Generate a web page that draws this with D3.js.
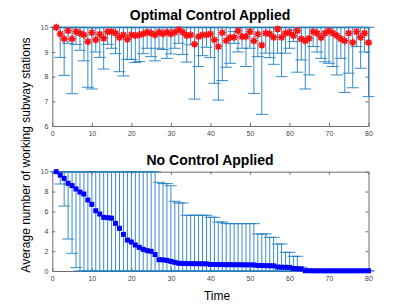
<!DOCTYPE html>
<html>
<head>
<meta charset="utf-8">
<script src="https://cdn.jsdelivr.net/npm/d3@7"></script>
<style>
  body { margin: 0; background: #fff; }
  svg { display: block; font-family: "Liberation Sans", Arial, Helvetica, sans-serif; }
</style>
</head>
<body>
<svg width="407" height="305"></svg>
<script>
// time steps 1..80
var time = d3.range(1, 81);

// optimal control: mean and error
var topMean = [
  10.0, 9.73, 9.53, 9.86, 9.53, 9.82, 9.76, 9.69, 9.42, 9.78,
  9.49, 9.72, 9.55, 9.82, 9.82, 9.76, 9.58, 9.69, 9.51, 9.69,
  9.66, 9.69, 9.73, 9.80, 9.76, 9.69, 9.80, 9.73, 9.80, 9.73,
  9.80, 9.90, 9.80, 9.66, 9.69, 9.32, 9.62, 9.69, 9.69, 9.73,
  9.49, 9.22, 9.78, 9.46, 9.59, 9.59, 9.86, 9.62, 9.62, 9.82,
  9.45, 9.72, 9.28, 9.76, 9.73, 9.59, 9.93, 9.59, 9.76, 9.78,
  9.66, 9.86, 9.53, 9.45, 9.55, 9.82, 9.76, 9.58, 9.76, 9.85,
  9.76, 9.66, 9.53, 9.45, 9.76, 9.39, 9.82, 9.59, 9.76, 9.38
];
var topErr = [
  0.00, 0.95, 1.48, 0.51, 2.22, 0.52, 0.69, 1.05, 1.85, 2.28,
  0.49, 0.94, 1.24, 0.51, 0.67, 0.83, 1.38, 1.66, 0.81, 0.99,
  1.09, 1.08, 0.80, 0.65, 0.95, 1.05, 0.65, 0.63, 1.06, 0.81,
  0.65, 0.55, 0.90, 1.07, 0.40, 2.23, 1.21, 0.84, 0.50, 0.96,
  1.76, 2.17, 1.94, 1.08, 1.05, 0.24, 0.86, 0.47, 1.21, 0.67,
  2.13, 0.91, 2.81, 0.81, 0.96, 1.09, 0.98, 1.59, 0.81, 0.63,
  0.24, 1.68, 0.85, 1.95, 1.48, 0.60, 0.76, 0.84, 1.16, 1.31,
  1.35, 1.59, 0.79, 2.09, 1.62, 1.84, 0.60, 1.25, 0.76, 2.19
];

// no control: mean and error
var bottomMean = [
  10.0, 9.66, 9.33, 8.83, 8.60, 8.26, 7.95, 7.75, 7.15, 6.71,
  6.07, 5.74, 5.40, 5.37, 5.32, 4.80, 4.30, 3.69, 3.12, 2.92,
  2.62, 2.38, 2.18, 2.05, 1.98, 1.66, 1.14, 1.12, 1.07, 0.97,
  0.87, 0.78, 0.76, 0.75, 0.74, 0.74, 0.73, 0.73, 0.72, 0.66,
  0.65, 0.65, 0.64, 0.64, 0.64, 0.63, 0.63, 0.63, 0.62, 0.62,
  0.61, 0.56, 0.55, 0.54, 0.53, 0.52, 0.40, 0.38, 0.37, 0.36,
  0.25, 0.23, 0.22, 0.03, 0.03, 0.02, 0.02, 0.02, 0.02, 0.02,
  0.02, 0.02, 0.02, 0.02, 0.02, 0.02, 0.02, 0.02, 0.02, 0.02
];
var bottomErr = [
  0.00, 0.90, 2.79, 5.61, 6.82, 7.92, 8.30, 8.50, 8.70, 8.80,
  8.90, 9.00, 9.10, 9.10, 9.20, 9.20, 9.30, 9.30, 9.30, 9.40,
  9.40, 9.40, 9.30, 9.20, 9.00, 8.90, 7.79, 7.68, 7.73, 7.62,
  6.15, 6.07, 6.09, 4.86, 4.87, 4.87, 4.88, 4.88, 4.89, 4.75,
  4.76, 4.28, 4.29, 4.13, 4.13, 4.14, 4.14, 4.14, 4.15, 4.15,
  4.16, 3.17, 3.18, 3.19, 2.86, 2.87, 2.32, 2.34, 1.51, 1.52,
  1.23, 1.25, 0.15, 0.00, 0.00, 0.00, 0.00, 0.00, 0.00, 0.00,
  0.00, 0.00, 0.00, 0.00, 0.00, 0.00, 0.00, 0.00, 0.00, 0.00
];

var xTicks = [0, 10, 20, 30, 40, 50, 60, 70, 80];
var topYTicks = [6, 7, 8, 9, 10];
var bottomYTicks = [0, 2, 4, 6, 8, 10];

var svg = d3.select('svg');
var barColor = '#1f7fc4';
var capHalf = 1.5; // in time units

var x = d3.scaleLinear().domain([0, 80]).range([52.3, 368.5]);

function drawPanel(p) {
    var y = d3.scaleLinear().domain(p.yDomain).range(p.yRange);
    var g = svg.append('g');
    var lo = p.yDomain[0], hi = p.yDomain[1];

    var rows = time.map(function (t, i) {
        return {
            t: t,
            m: p.mean[i],
            low: Math.max(p.mean[i] - p.err[i], lo),
            high: Math.min(p.mean[i] + p.err[i], hi)
        };
    });

    // axes (box with inward ticks)
    var yr = p.yRange;
    var axes = [
        g.append('g').attr('transform', 'translate(0,' + yr[0] + ')')
            .call(d3.axisBottom(x).tickValues(xTicks).tickSize(-3).tickSizeOuter(0).tickPadding(5)),
        g.append('g').attr('transform', 'translate(0,' + yr[1] + ')')
            .call(d3.axisTop(x).tickValues(xTicks).tickSize(-3).tickSizeOuter(0).tickFormat('')),
        g.append('g').attr('transform', 'translate(' + x.range()[0] + ',0)')
            .call(d3.axisLeft(y).tickValues(p.yTicks).tickSize(-3).tickSizeOuter(0).tickPadding(4).tickFormat(d3.format('d'))),
        g.append('g').attr('transform', 'translate(' + x.range()[1] + ',0)')
            .call(d3.axisRight(y).tickValues(p.yTicks).tickSize(-3).tickSizeOuter(0).tickFormat(''))
    ];
    axes.forEach(function (a) {
        a.select('.domain').attr('stroke', '#6e6e6e');
        a.selectAll('.tick line').attr('stroke', '#6e6e6e');
        a.selectAll('.tick text').attr('fill', '#444').style('font-size', '7px');
    });

    // error bars
    var bars = g.append('g')
        .attr('stroke', barColor)
        .attr('stroke-width', 0.9)
        .attr('fill', 'none');
    bars.selectAll('line.v').data(rows).enter().append('line')
        .attr('class', 'v')
        .attr('x1', function (d) { return x(d.t); })
        .attr('x2', function (d) { return x(d.t); })
        .attr('y1', function (d) { return y(d.low); })
        .attr('y2', function (d) { return y(d.high); });
    bars.selectAll('line.lc').data(rows).enter().append('line')
        .attr('class', 'lc')
        .attr('x1', function (d) { return x(d.t - capHalf); })
        .attr('x2', function (d) { return x(d.t + capHalf); })
        .attr('y1', function (d) { return y(d.low); })
        .attr('y2', function (d) { return y(d.low); });
    bars.selectAll('line.hc').data(rows).enter().append('line')
        .attr('class', 'hc')
        .attr('x1', function (d) { return x(d.t - capHalf); })
        .attr('x2', function (d) { return x(d.t + capHalf); })
        .attr('y1', function (d) { return y(d.high); })
        .attr('y2', function (d) { return y(d.high); });

    // markers
    var marks = g.append('g');
    if (p.marker === 'star') {
        var r = 3.6;
        var k = r * 0.72;
        marks.selectAll('path').data(rows).enter().append('path')
            .attr('transform', function (d) { return 'translate(' + x(d.t) + ',' + y(d.m) + ')'; })
            .attr('d', 'M' + (-r) + ',0H' + r + 'M0,' + (-r) + 'V' + r +
                'M' + (-k) + ',' + (-k) + 'L' + k + ',' + k +
                'M' + (-k) + ',' + k + 'L' + k + ',' + (-k))
            .attr('stroke', '#ff1010')
            .attr('stroke-width', 1.6)
            .attr('fill', 'none');
    } else {
        var s = 5;
        marks.selectAll('rect').data(rows).enter().append('rect')
            .attr('x', function (d) { return x(d.t) - s / 2; })
            .attr('y', function (d) { return y(d.m) - s / 2; })
            .attr('width', s)
            .attr('height', s)
            .attr('fill', '#0000ff');
    }

    svg.append('text')
        .attr('x', 210)
        .attr('y', p.titleY)
        .attr('text-anchor', 'middle')
        .style('font-size', '14px')
        .style('font-weight', 'bold')
        .attr('fill', '#000')
        .text(p.title);
}

drawPanel({
    title: 'Optimal Control Applied',
    titleY: 20,
    mean: topMean,
    err: topErr,
    yDomain: [6, 10],
    yRange: [126, 27.3],
    yTicks: topYTicks,
    marker: 'star'
});

drawPanel({
    title: 'No Control Applied',
    titleY: 165,
    mean: bottomMean,
    err: bottomErr,
    yDomain: [0, 10],
    yRange: [271, 171.7],
    yTicks: bottomYTicks,
    marker: 'square'
});

svg.append('text')
    .attr('transform', 'translate(30,155) rotate(-90)')
    .attr('text-anchor', 'middle')
    .style('font-size', '12px')
    .attr('fill', '#000')
    .text('Average number of working subway stations');

svg.append('text')
    .attr('x', 217)
    .attr('y', 300)
    .attr('text-anchor', 'middle')
    .style('font-size', '12px')
    .attr('fill', '#000')
    .text('Time');
</script>
</body>
</html>
